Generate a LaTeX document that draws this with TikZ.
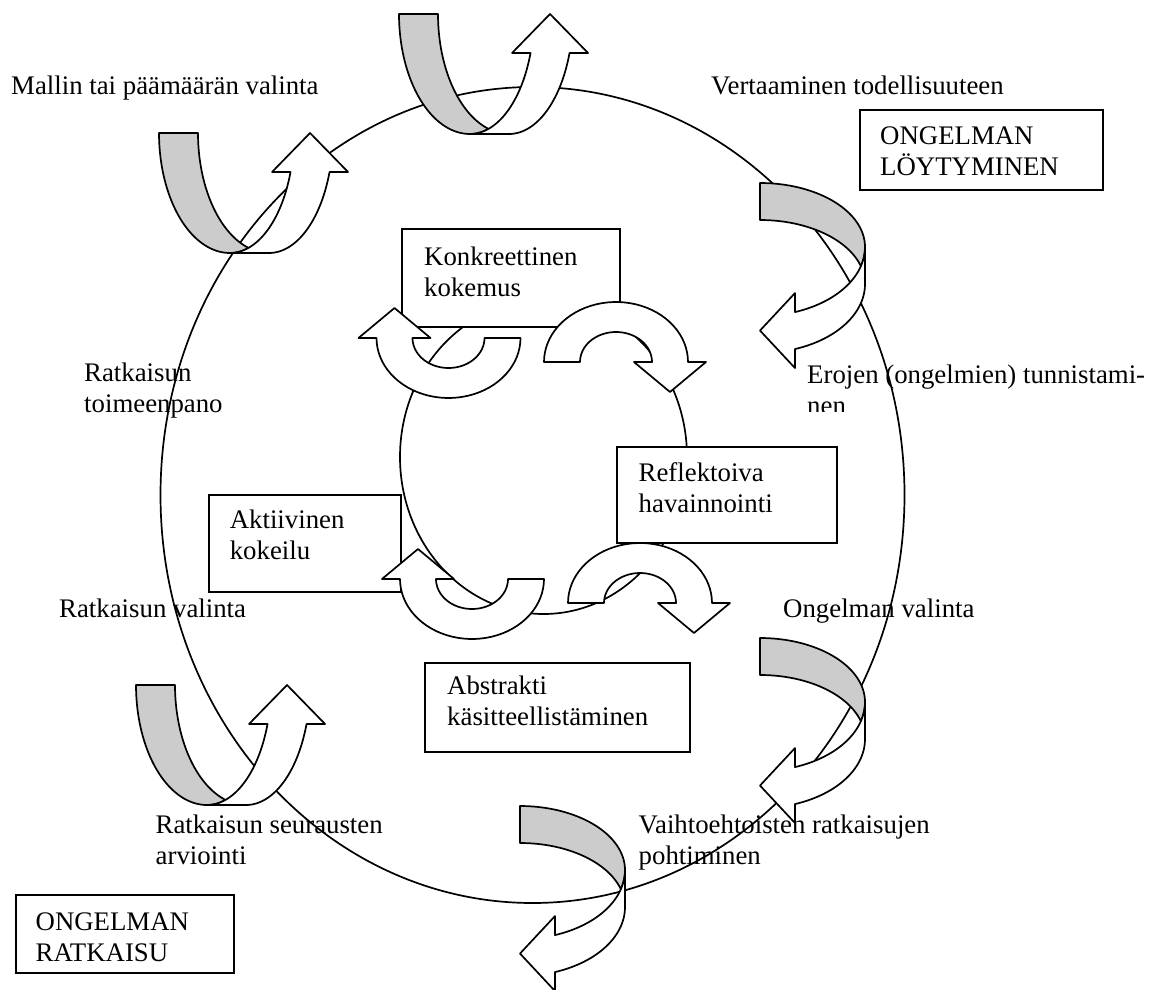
\documentclass[tikz,border=0pt]{standalone}
\usepackage{fontspec}
\setmainfont{Liberation Serif}
\definecolor{ribbongray}{RGB}{204,204,204}

% Curved ribbon turning upwards: shaded back strip on the left,
% white front strip rising to an upward head on the right.
\newcommand\ribbonup[2]{%
  \begin{scope}[shift={(#1,#2)}, samples=40]
    \filldraw[backside] plot[domain=0:90] ({71-71*cos(\x)},{120*sin(\x)})
      -- plot[domain=90:73.21] ({71+64*cos(\x)},{120*sin(\x)})
      -- plot[domain=73.21:0] ({110-71*cos(\x)},{120*sin(\x)}) -- cycle;
    \filldraw[frontside] plot[domain=90:18.97] ({71+64*cos(\x)},{120*sin(\x)})
      -- (113.03,39) -- (151.03,0) -- (189.03,39)
      -- plot[domain=18.97:90] ({110+64*cos(\x)},{120*sin(\x)}) -- cycle;
  \end{scope}}

% The same ribbon mirrored on the diagonal: it runs right, bends down
% and comes back with a head pointing left.
\newcommand\ribbonleft[2]{%
  \begin{scope}[shift={(#1,#2)}, samples=40]
    \filldraw[backside] plot[domain=0:90] ({105*sin(\x)},{64-64*cos(\x)})
      -- plot[domain=90:73.85] ({105*sin(\x)},{64+69*cos(\x)})
      -- plot[domain=73.85:0] ({105*sin(\x)},{101-64*cos(\x)}) -- cycle;
    \filldraw[frontside] plot[domain=90:19.47] ({105*sin(\x)},{64+69*cos(\x)})
      -- (35,110.05) -- (0,147.55) -- (35,185.05)
      -- plot[domain=19.47:90] ({105*sin(\x)},{101+69*cos(\x)}) -- cycle;
  \end{scope}}

% Half-ring arrow of the learning cycle (centre x, centre y, rotation).
\newcommand\kolbturn[3]{%
  \begin{scope}[shift={(#1,#2)}, rotate=#3, samples=40]
    \filldraw[frontside] plot[domain=180:0] ({72*cos(\x)},{-60*sin(\x)})
      -- (90,0) -- (54,30) -- (18,0) -- (36,0)
      -- plot[domain=0:180] ({36*cos(\x)},{-30*sin(\x)}) -- cycle;
  \end{scope}}

\begin{document}
\begin{tikzpicture}[x=1pt, y=-1pt,
  outline/.style={line width=1.7pt, line join=round},
  frontside/.style={outline, fill=white},
  backside/.style={outline, fill=ribbongray},
  cyclepath/.style={line width=1.7pt},
  labelbox/.style={draw, line width=1.7pt, fill=white, anchor=north west,
    inner sep=0pt},
  txt/.style={font=\fontsize{26.8}{31}\selectfont, anchor=base west,
    align=left, inner sep=0pt}]

\useasboundingbox (0,0) rectangle (1156,990);

% problem-solving cycle and learning cycle
\draw[cyclepath] (532.5,495) ellipse [x radius=372, y radius=408];
\draw[cyclepath] (543.5,457) ellipse [x radius=143.5, y radius=157];

% framed labels
\node[labelbox, minimum width=243pt, minimum height=80pt] (findbox) at (859,109) {};
\node[labelbox, minimum width=218pt, minimum height=98pt] (concbox) at (401,228) {};
\node[labelbox, minimum width=220pt, minimum height=96pt] (reflbox) at (616,446) {};
\node[labelbox, minimum width=192pt, minimum height=97pt] (actbox) at (208,494) {};
\node[labelbox, minimum width=265pt, minimum height=89pt] (abstbox) at (424,662) {};
\node[labelbox, minimum width=218pt, minimum height=78pt] (solvebox) at (15,894) {};

% two-line labels are anchored at the baseline of their second line
\node[txt] (findtxt) at (880,175) {ONGELMAN\\LÖYTYMINEN};
\node[txt] (conctxt) at (424,296) {Konkreettinen\\kokemus};
\node[txt] (refltxt) at (638.5,512) {Reflektoiva\\havainnointi};
\node[txt] (acttxt) at (229.6,559) {Aktiivinen\\kokeilu};
\node[txt] (abstxt) at (447,725) {Abstrakti\\käsitteellistäminen};
\node[txt] (solvetxt) at (35.5,961) {ONGELMAN\\RATKAISU};

% stage names around the outer cycle
\node[txt] (model) at (11,94) {Mallin tai päämäärän valinta};
\node[txt] (compare) at (711,94) {Vertaaminen todellisuuteen};
\node[txt] (implement) at (84,412) {Ratkaisun\\toimeenpano};
\begin{scope}
  \clip (800,340) rectangle (1156,411);
  \node[txt] (identify) at (807,414) {Erojen (ongelmien) tunnistami-\\nen};
\end{scope}
\node[txt] (choosesol) at (59,617) {Ratkaisun valinta};
\node[txt] (chooseprob) at (783,617) {Ongelman valinta};
\node[txt] (evaluate) at (155.5,864) {Ratkaisun seurausten\\arviointi};
\node[txt] (alternatives) at (638.5,864) {Vaihtoehtoisten ratkaisujen\\pohtiminen};

% ribbons on the outer cycle
\ribbonup{159}{133}
\ribbonup{399}{14}
\ribbonup{136}{685}
\ribbonleft{760}{183}
\ribbonleft{760}{638}
\ribbonleft{520}{806}

% half-ring arrows of the learning cycle
\kolbturn{448.5}{338}{180}
\kolbturn{616}{362}{0}
\kolbturn{472}{579}{180}
\kolbturn{640}{603}{0}
\end{tikzpicture}
\end{document}
